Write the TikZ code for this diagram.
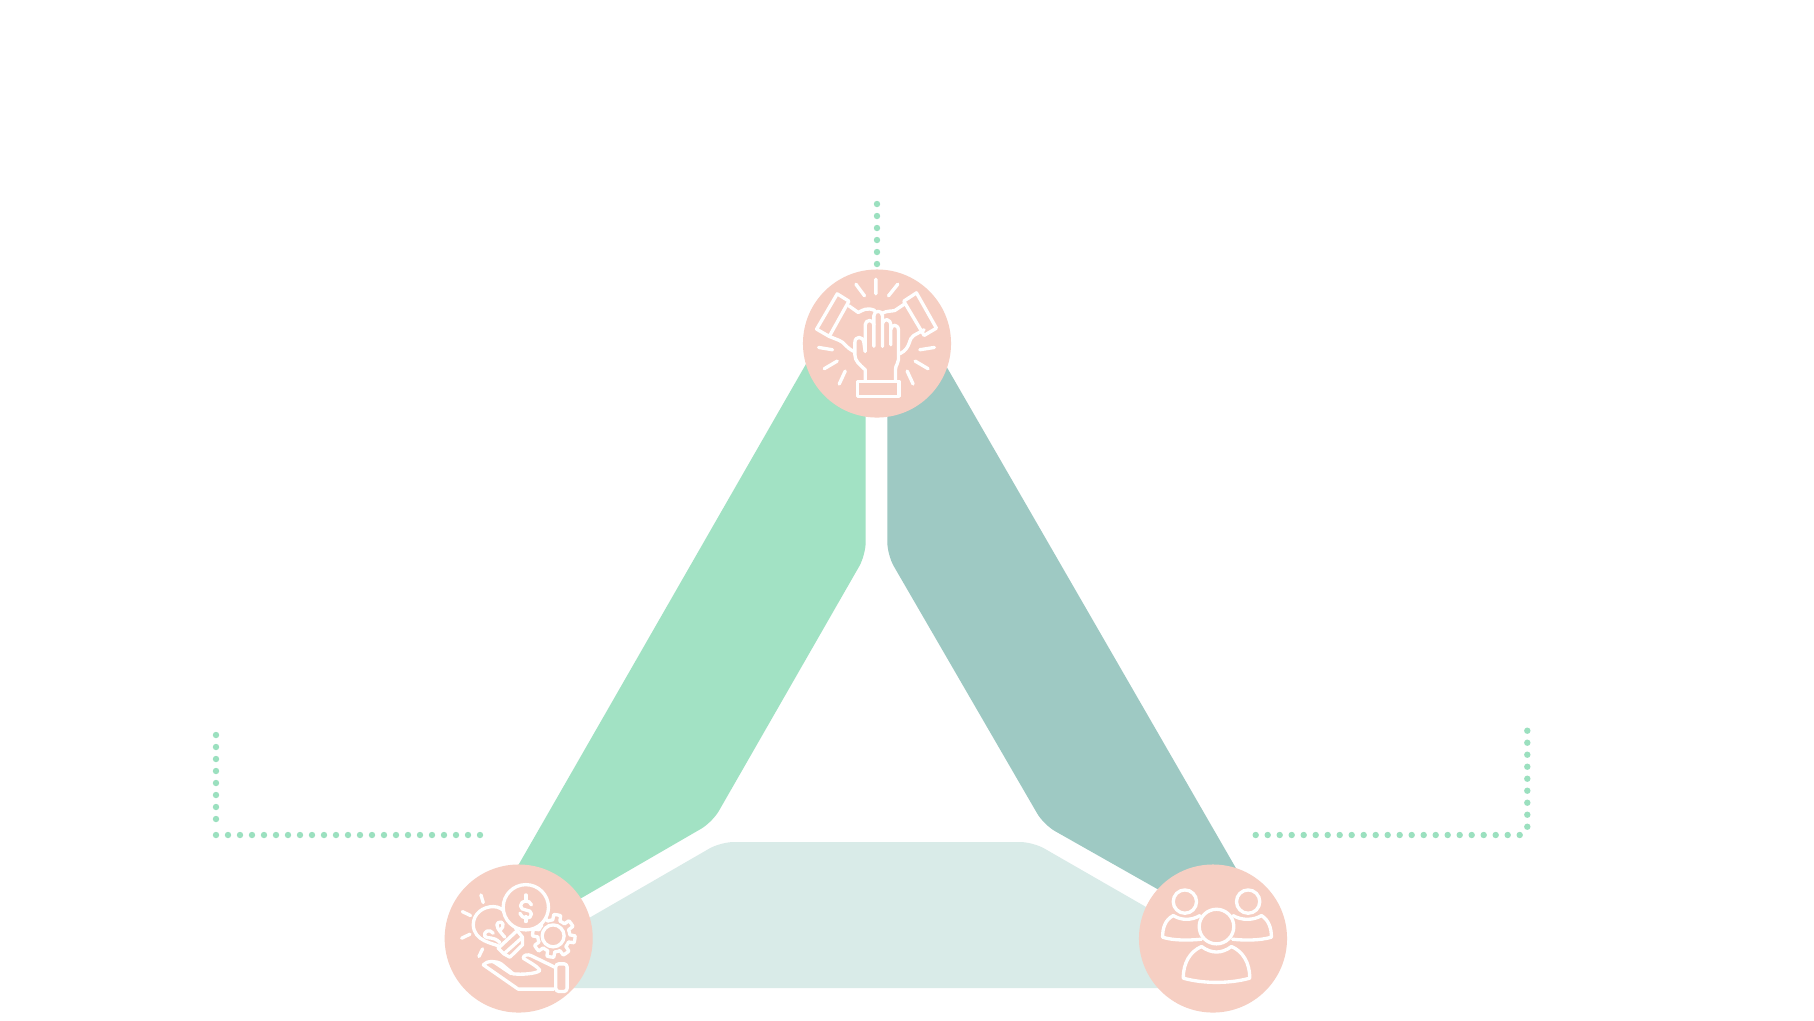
\documentclass[tikz,border=0pt]{standalone}
\definecolor{greenband}{HTML}{A2E2C4}
\definecolor{tealband}{HTML}{9EC9C3}
\definecolor{paleband}{HTML}{D9EBE8}
\definecolor{peach}{HTML}{F6CFC3}
\definecolor{dotgreen}{HTML}{9BE0BF}
\tikzset{
  band/.style={draw=none},
  badge/.style={circle,fill=peach,draw=none,minimum size=1.48cm,inner sep=0pt},
  ico/.style={draw=white,line width=0.95pt,line join=round,line cap=round},
  zoomed/.style={x=0.0033333cm,y=-0.0033333cm},
  dotmark/.style={fill=dotgreen,draw=none}
}
\begin{document}
\begin{tikzpicture}[x=0.01cm,y=-0.01cm]
\useasboundingbox (0,0) rectangle (1814,1020);
\fill[white] (0,0) rectangle (1814,1020);
% bands
\fill[band,fill=greenband] (806,364) -- (516.7,868) -- (578,900)
  [rounded corners=0.13cm] -- (712.4,822.2) -- (865.7,555) [sharp corners] -- (865.7,364) -- cycle;
\fill[band,fill=tealband] (945,364) -- (1237,870) -- (1175,899)
  [rounded corners=0.13cm] -- (1043.7,824.7) -- (887.3,555) [sharp corners] -- (887.3,364) -- cycle;
\fill[band,fill=paleband] (570,988) -- (570,929)
  [rounded corners=0.13cm] -- (720.7,842) -- (1033,842) [sharp corners] -- (1160,915) -- (1160,988) -- cycle;
% dotted guides
\foreach \yy in {0,...,5} \fill[dotmark] (877,204+12*\yy) circle (0.032cm);
\foreach \yy in {0,...,7} \fill[dotmark] (216,735+12*\yy) circle (0.032cm);
\foreach \xx in {0,...,22} \fill[dotmark] (216+12*\xx,835) circle (0.032cm);
\foreach \xx in {0,...,22} \fill[dotmark] (1255.7+12*\xx,835) circle (0.032cm);
\foreach \yy in {0,...,8} \fill[dotmark] (1527.3,730.7+12*\yy) circle (0.032cm);
% badges
\node[badge] (top) at (877,343.5) {};
\node[badge] (left) at (518.7,938.5) {};
\node[badge] (right) at (1213,938.5) {};
% hands icon
\begin{scope}[shift={(780,190)},zoomed,ico]
\draw (288,268)--(288,312) (228,283)--(254,318) (354,283)--(326,318)
 (116,473)--(158,480) (464,473)--(420,480) (133,537)--(172,514) (445,537)--(406,514)
 (178,583)--(196,544) (400,583)--(382,544);
\draw (172,312)--(207,334)--(148,440)--(110,418)--cycle;
\draw (372,334)--(410,309)--(470,415)--(433,437)--cycle;
\draw (233,575) rectangle (358,620);
\draw (256,575)--(256,540) .. controls (240,525) and (225,515) .. (225,495)
 --(225,458) .. controls (225,438) and (250,438) .. (252,458) --(256,485);
\draw (256,485)--(256,405) .. controls (256,388) and (282,388) .. (282,405)--(282,470);
\draw (282,405)--(282,378) .. controls (282,360) and (308,360) .. (308,378)--(308,470);
\draw (308,400) .. controls (312,385) and (333,385) .. (333,408)--(333,465);
\draw (333,418) .. controls (335,402) and (356,402) .. (356,422)--(356,510)
 .. controls (356,522) and (347,525) .. (347,540)--(347,575);
\draw (207,348)--(235,368) .. controls (250,360) and (262,352) .. (285,362);
\draw (148,440)--(178,452) .. controls (195,458) and (195,472) .. (222,485);
\draw (372,344)--(345,362) .. controls (335,365) and (322,362) .. (308,370);
\draw (433,420)--(402,437) .. controls (385,445) and (395,475) .. (360,492);
\end{scope}
% money icon
\begin{scope}[shift={(430,850)},zoomed,ico]
\draw (160,158)--(153,135) (122,197)--(97,185) (120,253)--(95,265) (158,297)--(147,320);
\draw[shift={(372,258)}] plot[domain=0:360,samples=97] (\x:{56+8*sign(sin(8*\x+22.5))}) -- cycle;
\draw (370,258) circle (33);
\draw (210,290) .. controls (190,280) and (132,275) .. (130,225)
 .. controls (130,190) and (160,170) .. (190,170)
 .. controls (225,170) and (240,205) .. (262,243);
\draw[fill=peach] (288,172) circle (68);
\draw (305,165) .. controls (300,148) and (272,150) .. (272,168)
 .. controls (272,186) and (305,175) .. (305,192)
 .. controls (305,210) and (275,208) .. (270,190);
\draw (288,135)--(288,150) (288,200)--(288,215);
\draw (205,295)--(262,242)--(278,262)--(222,312)--cycle;
\draw (222,312)--(240,322)--(278,285)--(278,262);
\draw (225,262) .. controls (205,240) and (195,225) .. (205,218) .. controls (220,210) and (225,230) .. (212,240);
\draw (210,278) .. controls (190,258) and (175,268) .. (165,260) .. controls (158,245) and (180,235) .. (190,250);
\draw (160,345) .. controls (170,332) and (200,332) .. (215,343)
 -- (250,372) .. controls (275,375) and (320,372) .. (330,362)
 .. controls (325,350) and (295,335) .. (280,325)
 .. controls (280,315) and (295,312) .. (305,318) -- (375,352);
\draw (190,335)--(245,372);
\draw (160,345)--(265,418)--(372,418);
\draw[rounded corners=0.03cm] (378,342) rectangle (412,425);
\end{scope}
% people icon
\begin{scope}[shift={(1120,850)},zoomed,ico]
\draw (195,155) circle (35);
\draw (385,155) circle (35);
\draw (290,230) circle (52);
\draw (240,197) .. controls (215,212) and (185,212) .. (160,197)
 .. controls (135,210) and (128,235) .. (128,262)
 .. controls (160,272) and (205,272) .. (245,268);
\draw (340,197) .. controls (365,212) and (400,212) .. (425,197)
 .. controls (447,210) and (455,235) .. (455,262)
 .. controls (420,272) and (375,272) .. (338,268);
\draw (245,290) .. controls (275,312) and (305,312) .. (335,290)
 .. controls (370,305) and (390,340) .. (390,385)
 .. controls (330,402) and (250,402) .. (190,385)
 .. controls (190,340) and (210,305) .. (245,290) -- cycle;
\end{scope}
\end{tikzpicture}
\end{document}
